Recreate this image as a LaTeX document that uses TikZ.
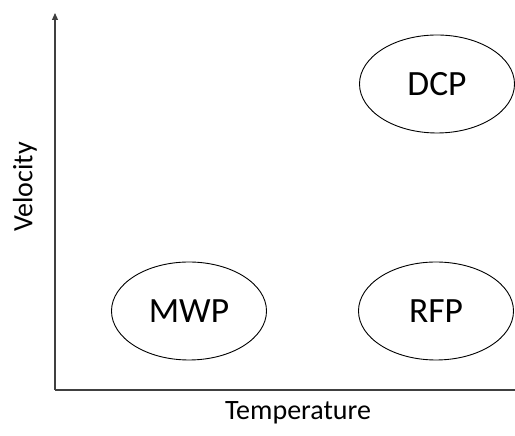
\documentclass[tikz,border=0pt]{standalone}
\usepackage{fontspec}
\setmainfont{Carlito}
\usetikzlibrary{shapes.geometric,arrows.meta}
\begin{document}
\begin{tikzpicture}[x=1pt,y=1pt,
  phase/.style={draw=black,line width=0.9pt,ellipse,minimum width=155pt,minimum height=98pt,inner sep=0pt,font=\fontsize{35.5}{40}\selectfont},
  axis/.style={draw=black!75,line width=1.1pt,-{Triangle[length=7pt,width=6pt]}},
  axlabel/.style={font=\fontsize{28}{32}\selectfont}]
\clip (0,0) rectangle (515,436);
\useasboundingbox (0,0) rectangle (515,436);
\coordinate (o) at (55,46);
\coordinate (ytop) at (55,423);
\coordinate (xend) at (522,46);
\draw[axis] (o) -- (ytop);
\draw[axis] (o) -- (xend);
\node[phase] (dcp) at (437,352) {DCP};
\node[phase] (mwp) at (189,125) {MWP};
\node[phase] (rfp) at (436,125) {RFP};
\node[axlabel] (vel) at (25,249) [rotate=90] {Velocity};
\node[axlabel] (temp) at (298,23) {Temperature};
\end{tikzpicture}
\end{document}
